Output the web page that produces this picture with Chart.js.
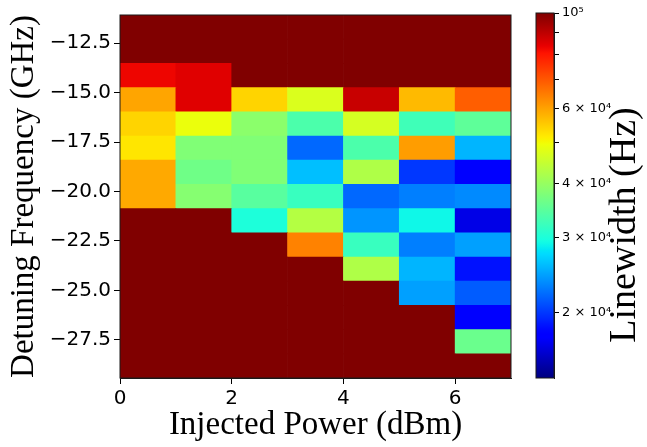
<!DOCTYPE html>
<html>
<head>
<meta charset="utf-8">
<script src="https://cdn.jsdelivr.net/npm/chart.js@4.4.1/dist/chart.umd.min.js"></script>
<style>
  html, body { margin: 0; padding: 0; background: #fff; }
  #wrap { position: relative; width: 647px; height: 447px; }
  #heat { position: absolute; left: 0; top: 0; }
  #cbar { position: absolute; left: 500px; top: 0; }
</style>
</head>
<body>
<div id="wrap">
  <canvas id="heat" width="647" height="447" style="width:647px;height:447px"></canvas>
  <canvas id="cbar" width="147" height="447" style="width:147px;height:447px"></canvas>
</div>
<script>
// injected power (dBm), left edge of each column
const powerDbm = [0, 1, 2, 3, 4, 5, 6];
// detuning row edges (GHz), top to bottom
const detuningEdges = [-11.07, -12.29, -13.52, -14.74, -15.97, -17.19, -18.41, -19.64,
                       -20.86, -22.09, -23.31, -24.53, -25.76, -26.98, -28.21, -29.43];
const powerTicks = [0, 2, 4, 6];
const detuningTicks = [-27.5, -25.0, -22.5, -20.0, -17.5, -15.0, -12.5];
const linewidthTicks = [2e4, 3e4, 4e4, 5e4, 6e4, 7e4, 8e4, 9e4, 1e5];
const linewidthLabels = ['2 × 10⁴', '3 × 10⁴', '4 × 10⁴', '', '6 × 10⁴', '', '', '', '10⁵'];

// measured linewidth (Hz), one row per detuning step, top row first
const linewidth = [
  [1e5,    1e5,    1e5,    1e5,    1e5,    1e5,    1e5],
  [1e5,    1e5,    1e5,    1e5,    1e5,    1e5,    1e5],
  [8.3e4,  8.5e4,  1e5,    1e5,    1e5,    1e5,    1e5],
  [5.95e4, 8.5e4,  5.4e4,  4.7e4,  8.85e4, 5.7e4,  6.9e4],
  [5.4e4,  4.9e4,  3.9e4,  3.35e4, 4.65e4, 3.25e4, 3.5e4],
  [5.2e4,  3.8e4,  3.8e4,  2.2e4,  3.35e4, 6.05e4, 2.55e4],
  [5.9e4,  3.65e4, 3.8e4,  2.6e4,  4.25e4, 2.0e4,  1.78e4],
  [5.9e4,  3.85e4, 3.45e4, 3.2e4,  2.2e4,  2.3e4,  2.35e4],
  [1e5,    1e5,    3.0e4,  4.3e4,  2.4e4,  2.9e4,  1.68e4],
  [1e5,    1e5,    1e5,    6.4e4,  3.2e4,  2.3e4,  2.45e4],
  [1e5,    1e5,    1e5,    1e5,    4.25e4, 2.55e4, 1.86e4],
  [1e5,    1e5,    1e5,    1e5,    1e5,    2.45e4, 2.15e4],
  [1e5,    1e5,    1e5,    1e5,    1e5,    1e5,    1.75e4],
  [1e5,    1e5,    1e5,    1e5,    1e5,    1e5,    3.6e4],
  [1e5,    1e5,    1e5,    1e5,    1e5,    1e5,    1e5]
];

const cbMin = 1.41e4;
const cbMax = 1e5;

// ---- jet colormap ----
const JET = {
  r: [[0, 0], [0.35, 0], [0.66, 1], [0.89, 1], [1, 0.5]],
  g: [[0, 0], [0.125, 0], [0.375, 1], [0.64, 1], [0.91, 0], [1, 0]],
  b: [[0, 0.5], [0.11, 1], [0.34, 1], [0.65, 0], [1, 0]]
};
function interp(pts, t) {
  for (let i = 1; i < pts.length; i++) {
    if (t <= pts[i][0]) {
      const [x0, y0] = pts[i - 1], [x1, y1] = pts[i];
      return y0 + (y1 - y0) * (t - x0) / (x1 - x0);
    }
  }
  return pts[pts.length - 1][1];
}
function jet(t) {
  t = Math.min(1, Math.max(0, t));
  const c = k => Math.round(255 * interp(JET[k], t));
  return `rgb(${c('r')},${c('g')},${c('b')})`;
}
function logNorm(v) {
  return (Math.log10(v) - Math.log10(cbMin)) / (Math.log10(cbMax) - Math.log10(cbMin));
}

// ---- heatmap cells as floating bars ----
const cells = [];
const cellColors = [];
linewidth.forEach((row, r) => {
  row.forEach((v, c) => {
    cells.push({ x: powerDbm[c] + 0.5, y: [detuningEdges[r + 1], detuningEdges[r]] });
    cellColors.push(jet(logNorm(v)));
  });
});

const frame = {
  id: 'frame',
  afterDatasetsDraw(chart) {
    const { ctx, chartArea: a } = chart;
    ctx.save();
    ctx.strokeStyle = '#1a1a1a';
    ctx.lineWidth = 1;
    ctx.strokeRect(a.left, a.top, a.right - a.left, a.bottom - a.top);
    ctx.restore();
  }
};

const tickFont = { family: 'DejaVu Sans', size: 20 };
const titleFont = { family: 'Liberation Serif', size: 33, lineHeight: 1.2 };

new Chart(document.getElementById('heat'), {
  type: 'bar',
  data: {
    datasets: [{
      data: cells,
      backgroundColor: cellColors,
      borderWidth: 0,
      barPercentage: 1,
      categoryPercentage: 1
    }]
  },
  options: {
    responsive: false,
    animation: false,
    layout: { padding: { left: 0, right: 136, top: 13, bottom: 0 } },
    plugins: { legend: { display: false }, tooltip: { enabled: false } },
    scales: {
      x: {
        type: 'linear', min: 0, max: 7, offset: false,
        afterBuildTicks: s => { s.ticks = powerTicks.map(v => ({ value: v })); },
        afterFit: s => { s.height = 69; },
        grid: { drawOnChartArea: false, drawTicks: true, tickLength: 6, color: '#000', offset: false },
        border: { display: true, color: '#1a1a1a' },
        ticks: { color: '#000', font: tickFont, padding: 3, maxRotation: 0 },
        title: { display: true, text: 'Injected Power (dBm)', color: '#000', font: titleFont, padding: { bottom: 2 } }
      },
      y: {
        type: 'linear', min: detuningEdges[detuningEdges.length - 1], max: detuningEdges[0],
        afterBuildTicks: s => { s.ticks = detuningTicks.map(v => ({ value: v })); },
        afterFit: s => { s.width = 120; },
        grid: { drawOnChartArea: false, drawTicks: true, tickLength: 6, color: '#000' },
        border: { display: true, color: '#1a1a1a' },
        ticks: {
          color: '#000', font: tickFont, padding: 3,
          callback: v => (v < 0 ? '\u2212' : '') + Math.abs(v).toFixed(1)
        },
        title: { display: true, text: 'Detuning Frequency (GHz)', color: '#000', font: titleFont, padding: { top: 5 } }
      }
    }
  },
  plugins: [frame]
});

// ---- colorbar ----
function cbGradient(chart) {
  const a = chart.chartArea;
  if (!a) return '#800000';
  const g = chart.ctx.createLinearGradient(0, a.bottom, 0, a.top);
  for (let i = 0; i <= 100; i++) g.addColorStop(i / 100, jet(i / 100));
  return g;
}

const cbTitle = {
  id: 'cbTitle',
  afterDraw(chart) {
    const ctx = chart.ctx;
    ctx.save();
    ctx.translate(125, 225);
    ctx.rotate(-Math.PI / 2);
    ctx.font = '38px "Liberation Serif"';
    ctx.fillStyle = '#000';
    ctx.textAlign = 'center';
    ctx.textBaseline = 'middle';
    ctx.fillText('Linewidth (Hz)', 0, 0);
    ctx.restore();
  }
};

new Chart(document.getElementById('cbar'), {
  type: 'bar',
  data: {
    labels: [''],
    datasets: [{
      data: [[cbMin, cbMax]],
      backgroundColor: ctx => cbGradient(ctx.chart),
      borderWidth: 0,
      barPercentage: 1,
      categoryPercentage: 1
    }]
  },
  options: {
    responsive: false,
    animation: false,
    layout: { padding: { left: 36, right: 0, top: 13, bottom: 69 } },
    plugins: { legend: { display: false }, tooltip: { enabled: false } },
    scales: {
      x: { display: false },
      y: {
        type: 'logarithmic', position: 'right', min: cbMin, max: cbMax,
        afterBuildTicks: s => { s.ticks = linewidthTicks.map(v => ({ value: v })); },
        afterFit: s => { s.width = 93; },
        grid: { drawOnChartArea: false, drawTicks: true, tickLength: 5, color: '#000' },
        border: { display: true, color: '#1a1a1a' },
        ticks: {
          color: '#000', font: { family: 'DejaVu Sans', size: 13 }, padding: 3, autoSkip: false,
          callback: (v, i) => linewidthLabels[i]
        }
      }
    }
  },
  plugins: [frame, cbTitle]
});
</script>
</body>
</html>
